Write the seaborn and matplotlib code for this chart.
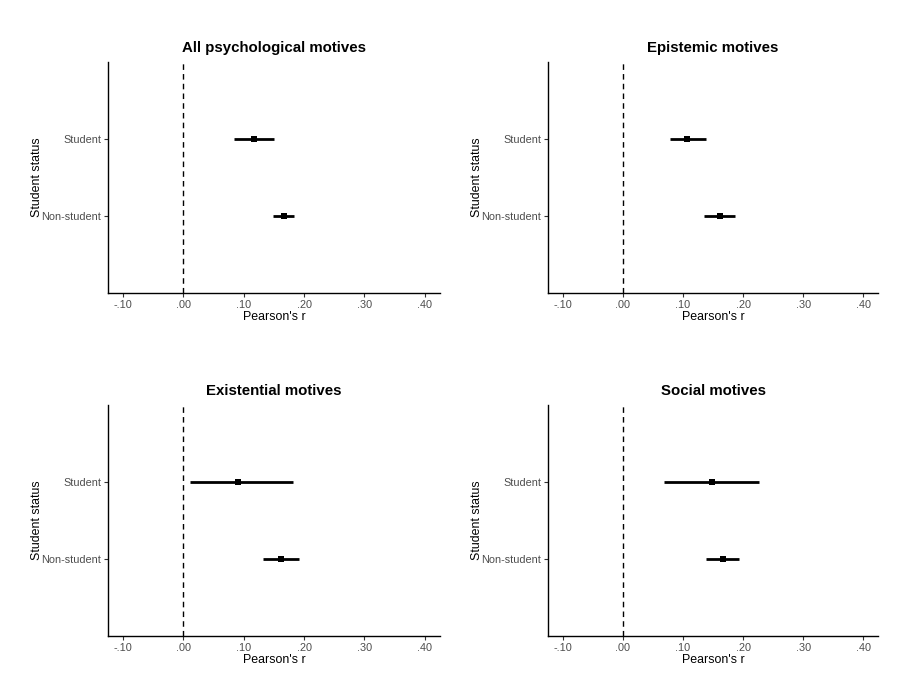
import numpy as np
import pandas as pd
import seaborn as sns
import matplotlib
matplotlib.use("Agg")
import matplotlib.pyplot as plt

# correlations and 95% CIs
panels = ["All psychological motives", "Epistemic motives",
          "Existential motives", "Social motives"]
groups = ["Non-student", "Student"]

est_nonstudent = [0.167, 0.162, 0.161, 0.166]
lo_nonstudent = [0.149, 0.135, 0.132, 0.138]
hi_nonstudent = [0.184, 0.187, 0.191, 0.193]

est_student = [0.117, 0.107, 0.091, 0.148]
lo_student = [0.083, 0.078, 0.011, 0.069]
hi_student = [0.150, 0.138, 0.181, 0.226]

xticks = [-0.1, 0.0, 0.1, 0.2, 0.3, 0.4]
xticklabels = ["-.10", ".00", ".10", ".20", ".30", ".40"]

sns.set_theme(style="ticks")
plt.rcParams['font.family'] = ['Liberation Sans', 'DejaVu Sans']
plt.rcParams['text.color'] = 'black'
plt.rcParams['axes.labelcolor'] = 'black'

fig = plt.figure(figsize=(9.02, 6.96), dpi=100)

# axes boxes in figure fractions [left, bottom, width, height]
boxes = [[0.1197, 0.579, 0.368, 0.332],
         [0.6075, 0.579, 0.366, 0.332],
         [0.1197, 0.0862, 0.368, 0.332],
         [0.6075, 0.0862, 0.366, 0.332]]

for i, title in enumerate(panels):
    ax = fig.add_axes(boxes[i])
    df = pd.DataFrame({
        "group": groups,
        "pos": [1, 2],
        "r": [est_nonstudent[i], est_student[i]],
        "lo": [lo_nonstudent[i], lo_student[i]],
        "hi": [hi_nonstudent[i], hi_student[i]],
    })

    ax.axvline(0, color="black", linestyle=(0, (4, 3)), linewidth=1.0, zorder=1)
    ax.hlines(df["pos"], df["lo"], df["hi"], color="black", linewidth=2.0, zorder=2)
    sns.scatterplot(data=df, x="r", y="pos", marker="s", s=18, color="black",
                    edgecolor="black", linewidth=0, ax=ax, zorder=3, legend=False)

    ax.set_xlim(-0.125, 0.425)
    ax.set_ylim(0, 3)
    ax.set_xticks(xticks)
    ax.set_xticklabels(xticklabels)
    ax.set_yticks(df["pos"])
    ax.set_yticklabels(df["group"])

    ax.tick_params(axis="both", colors="#333333", labelcolor="#4D4D4D",
                   labelsize=7.8, length=3, width=0.8, pad=2)
    for side in ["left", "bottom"]:
        ax.spines[side].set_color("black")
        ax.spines[side].set_linewidth(1.0)
    sns.despine(ax=ax)

    ax.set_title(title, fontsize=10.8, fontweight="bold", pad=7, color="black")
    ax.set_xlabel("Pearson's r", fontsize=8.9, labelpad=1)
    ax.set_ylabel("Student status", fontsize=8.9, labelpad=-1)

fig.savefig("out.png", dpi=100)
